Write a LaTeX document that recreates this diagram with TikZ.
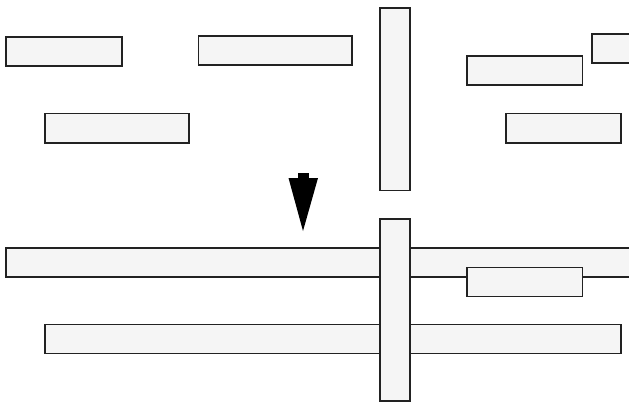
\documentclass[tikz,border=0pt]{standalone}
\usetikzlibrary{calc}
\definecolor{barfill}{HTML}{F5F5F5}
\definecolor{barline}{HTML}{222222}
\tikzset{
  bar/.style={draw=barline, fill=barfill, line width=1.3pt},
  pointer/.style={fill=black, draw=none}
}
\begin{document}
\begin{tikzpicture}[x=1pt,y=-1pt]
\useasboundingbox (0,0) rectangle (629,404);
\clip (0,0) rectangle (629,404);
% upper group
\path[bar] (6,37) rectangle (122,66);
\path[bar] (198.5,36) rectangle (352,65);
\path[bar] (380,8) rectangle (410,190.5);
\path[bar] (467,56) rectangle (582.5,85);
\path[bar] (592,34) rectangle (640,63);
\path[bar] (45,113.5) rectangle (189,143);
\path[bar] (506,113.5) rectangle (621,143);
% arrow
\path[pointer] (298,173) rectangle (309,179);
\path[pointer] (288.5,178) -- (318,178) -- (303,231) -- cycle;
% lower group
\path[bar] (6,248) rectangle (640,277);
\path[bar] (45,324.5) rectangle (621,353.5);
\path[bar] (380,219) rectangle (410,401);
\path[bar] (467,267.5) rectangle (582.5,296.5);
\end{tikzpicture}
\end{document}
